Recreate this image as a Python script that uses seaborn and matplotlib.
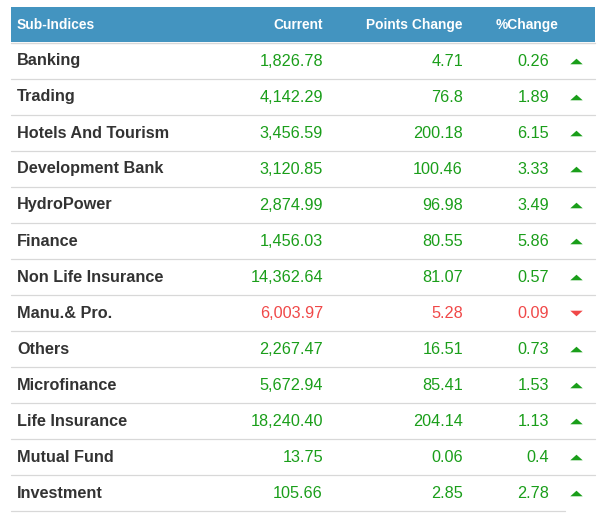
import matplotlib
matplotlib.use("Agg")
import matplotlib.pyplot as plt
import seaborn as sns
from matplotlib.patches import Rectangle

sub_indices = ["Banking", "Trading", "Hotels And Tourism", "Development Bank",
               "HydroPower", "Finance", "Non Life Insurance", "Manu.& Pro.",
               "Others", "Microfinance", "Life Insurance", "Mutual Fund",
               "Investment"]
current = ["1,826.78", "4,142.29", "3,456.59", "3,120.85", "2,874.99",
           "1,456.03", "14,362.64", "6,003.97", "2,267.47", "5,672.94",
           "18,240.40", "13.75", "105.66"]
points_change = ["4.71", "76.8", "200.18", "100.46", "96.98", "80.55",
                 "81.07", "5.28", "16.51", "85.41", "204.14", "0.06", "2.85"]
pct_change = ["0.26", "1.89", "6.15", "3.33", "3.49", "5.86", "0.57",
              "0.09", "0.73", "1.53", "1.13", "0.4", "2.78"]
direction = ["up", "up", "up", "up", "up", "up", "up", "down",
             "up", "up", "up", "up", "up"]
headers = ["Sub-Indices", "Current", "Points Change", "%Change"]

sns.set_theme(style="white")
plt.rcParams['font.family'] = ['Liberation Sans', 'DejaVu Sans']

W, H = 603, 527
fig = plt.figure(figsize=(W / 100, H / 100), dpi=100)
ax = fig.add_axes([0, 0, 1, 1])
ax.set_xlim(0, W)
ax.set_ylim(H, 0)
ax.axis("off")

GREEN = "#1a9e1a"
RED = "#f04848"
DARK = "#333333"
HEADER = "#4394c0"
LINE = "#d8d8d8"

pt = 72 / 100  # points per pixel

# header
ax.add_patch(Rectangle((11, 7), 584, 35, facecolor=HEADER, edgecolor="none"))
hy = 25
hfs = 13.8 * pt
ax.text(17, hy, headers[0], color="white", fontsize=hfs, fontweight="bold", va="center", ha="left")
ax.text(323, hy, headers[1], color="white", fontsize=hfs, fontweight="bold", va="center", ha="right")
ax.text(463, hy, headers[2], color="white", fontsize=hfs, fontweight="bold", va="center", ha="right")
ax.text(558, hy, headers[3], color="white", fontsize=hfs, fontweight="bold", va="center", ha="right")
ax.plot([11, 595], [42.5, 42.5], color=LINE, lw=1.0)

row_h = 36
top = 42
nfs = 16.2 * pt
fs = 16.2 * pt
up_marker = [(-1, -0.45), (1, -0.45), (0, 0.45)]
down_marker = [(-1, 0.45), (1, 0.45), (0, -0.45)]
for i, name in enumerate(sub_indices):
    yc = top + row_h * i + row_h / 2 + 1
    col = GREEN if direction[i] == "up" else RED
    ax.text(17, yc, name, color=DARK, fontsize=nfs, fontweight="bold", va="center", ha="left")
    ax.text(323, yc, current[i], color=col, fontsize=fs, va="center", ha="right")
    ax.text(463, yc, points_change[i], color=col, fontsize=fs, va="center", ha="right")
    ax.text(549, yc, pct_change[i], color=col, fontsize=fs, va="center", ha="right")
    ax.scatter([576], [yc - 0.5], marker=up_marker if direction[i] == "up" else down_marker,
               s=80, color=col, linewidths=0)
    ly = top + row_h * (i + 1) + 0.5
    x_end = 595 if i < len(sub_indices) - 1 else 565
    ax.plot([11, x_end], [ly, ly], color=LINE, lw=0.9)

fig.savefig("out.png", dpi=100)
